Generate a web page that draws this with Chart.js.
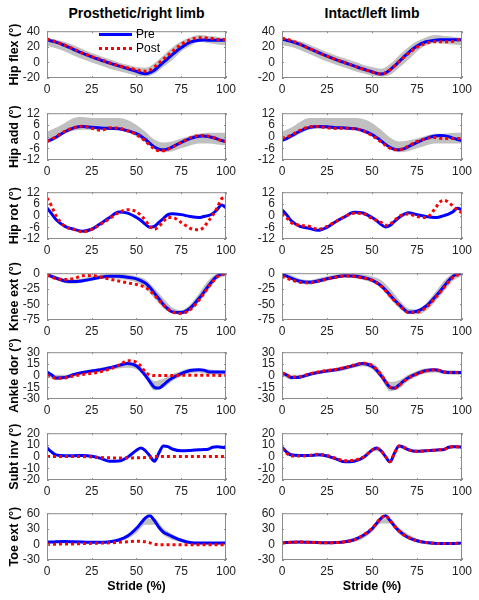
<!DOCTYPE html>
<html>
<head>
<meta charset="utf-8">
<script src="https://cdn.jsdelivr.net/npm/chart.js@4"></script>
<style>
  body { margin: 0; background: #fff; width: 479px; height: 600px; position: relative; overflow: hidden;
         font-family: "Liberation Sans", Arial, sans-serif; }
  canvas { position: absolute; }
  .coltitle { position: absolute; top: 5px; height: 17px; line-height: 17px; font-size: 14px; font-weight: bold;
              text-align: center; color: #000; }
  .leg-line { position: absolute; width: 33px; height: 3px; }
  .leg-text { position: absolute; font-size: 12px; line-height: 14px; color: #000; }
</style>
</head>
<body>
<div class="coltitle" style="left:47px;width:179px">Prosthetic/right limb</div>
<div class="coltitle" style="left:282px;width:180px">Intact/left limb</div>

<script>
// stride samples (%) for the Pre / Post curves and for the grey reference band
const stride = [0, 2.5, 5, 10, 15, 20, 25, 30, 35, 40, 45, 50, 52.5, 55, 57.5, 60, 62.5, 65, 67.5, 70, 75, 80, 85, 87.5, 90, 92.5, 95, 97.5, 100];
const bandStride = [0, 5, 10, 15, 20, 25, 30, 35, 40, 45, 50, 55, 60, 65, 70, 75, 80, 85, 90, 95, 100];
const xTicks = [0, 25, 50, 75, 100];

// Hip flexion
const hipFlexRPre  = [29, 27.5, 26, 21.5, 16.5, 11.5, 7, 3, -1, -4.5, -8, -11.5, -13.5, -14.5, -13, -10, -5, 0, 5, 10, 19, 26, 28.5, 28.7, 28.5, 28.5, 28.5, 28.5, 28.5];
const hipFlexRPost = [30, 28.5, 26.5, 22, 17, 12, 7.5, 3.5, -0.5, -4, -7, -9.5, -11, -11.5, -10, -6, -1, 4, 9, 14, 23, 29, 31.5, 31.5, 31, 30.5, 29.5, 29.5, 29.5];
const hipFlexRLow  = [21, 18, 14, 9, 4, 0, -4, -8, -11, -14, -17, -18, -15, -6, 3, 14, 21, 26, 25, 23, 22];
const hipFlexRHigh = [31, 29, 26, 22, 17, 12, 8, 4, 0, -3, -6, -7, -1, 9, 19, 27, 32, 35, 34, 33, 31];
const hipFlexLPre  = [29.5, 28.5, 27, 23, 18, 13, 8, 3.5, -0.5, -4.5, -8.5, -12, -14, -15, -13.5, -9.5, -4.5, 1, 6.5, 12, 21, 26.5, 28.5, 29, 29, 29, 29, 29, 29];
const hipFlexLPost = [31, 30, 28, 23.5, 18, 13, 8, 3.5, -0.5, -4.5, -8.5, -12.5, -14, -15, -13.5, -9.5, -4.5, 1, 6, 11, 19.5, 24.5, 26.5, 26.5, 26.5, 26.5, 27, 28.5, 31];
const hipFlexLLow  = [22, 20, 16, 11, 6, 1, -3, -7, -11, -14, -17, -18, -16, -7, 3, 14, 22, 25, 24, 23, 22];
const hipFlexLHigh = [32, 30, 27, 23, 18, 13, 9, 5, 1, -3, -6, -8, -2, 9, 19, 27, 32, 35, 34, 33, 31];

// Hip adduction
const hipAddRPre  = [-2.5, -1.5, -0.3, 2.5, 4.5, 5.2, 4.8, 4.4, 4.2, 4, 3, 1.5, 0.2, -1.5, -3.5, -5.3, -6.5, -6.8, -6.3, -5.3, -3, -1, 0.2, 0.3, 0, -0.5, -1.2, -2, -2.5];
const hipAddRPost = [-2.5, -1.5, 0, 2.7, 4.6, 5.3, 4.2, 3.2, 4.5, 4.3, 3, 1, -0.5, -2.3, -4.5, -6.3, -7.3, -7.3, -6.5, -5.5, -3, -0.7, 0.5, 0.6, 0.3, -0.3, -1.2, -2, -2.7];
const hipAddRLow  = [-3, -1.5, 1.5, 3, 3.5, 3.5, 3.5, 3.5, 3.5, 2.5, 0, -3, -6, -8, -7.5, -6, -4.5, -3.5, -3.5, -4, -4.5];
const hipAddRHigh = [2.5, 4.5, 7, 9.5, 10, 9.5, 9.5, 9.5, 9.5, 8.5, 6, 2.5, -1.5, -3, -2.5, -1, 0.5, 1.5, 2, 2, 2];
const hipAddLPre  = [-2, -1, 0.3, 2.8, 4.6, 5.2, 5, 4.6, 4.4, 4.1, 3, 1, -0.5, -2.2, -4, -5.5, -6.5, -6.8, -6.3, -5.3, -3, -1, 0.3, 0.6, 0.5, 0, -0.8, -1.5, -2];
const hipAddLPost = [-0.8, -0.2, 0.8, 3.2, 5, 5.2, 4.5, 4.2, 4.3, 4, 3, 0.5, -1, -2.8, -4.5, -6, -6.8, -6.8, -6, -5, -2.5, -1, -0.5, -0.8, -1, -1, -1, -1, -1];
const hipAddLLow  = [-2.5, -1, 1.5, 3.5, 4, 4, 4, 4, 4, 3, 0.5, -2.5, -5.5, -8, -7.5, -6, -4.5, -3.5, -3.5, -3.5, -3.5];
const hipAddLHigh = [2.5, 4.5, 7.5, 9.5, 9.5, 9.5, 9.5, 9.5, 9.5, 9, 7, 3.5, -0.5, -2.5, -2, -1, 0.5, 1.5, 1.5, 2, 2];

// Hip rotation (no reference band)
const hipRotRPre  = [4, 1, -2, -5.5, -7, -8, -7, -4, -1, 1.8, 1.3, -1, -2.5, -4.5, -6, -5.5, -3.5, -1.5, 0.5, 1, 0.5, -0.5, -1, -0.5, 0, 1, 3, 5.5, 4];
const hipRotRPost = [9, 5, 0, -5.5, -7, -8.3, -7, -4.5, -1.5, 1.5, 3, 2, 0, -2.5, -5.5, -7, -5.5, -3, -1, -1, -3.5, -6.5, -7.3, -6, -3, 0, 4, 8.5, 10];
const hipRotLPre  = [3, 0.5, -2.5, -5.5, -6.5, -7.5, -6, -3, -0.5, 1.7, 1.3, -1, -2.5, -4.5, -5.8, -5, -3, -1, 0.5, 1.5, 0.5, -0.5, -1, -0.7, 0, 0.8, 2, 3.8, 3];
const hipRotLPost = [1, -1, -3.5, -5, -5.5, -7, -5.5, -3, -0.5, 1.2, 1, -1.5, -2.5, -3.5, -5, -4.5, -2.5, -0.5, 0.5, 0.8, -0.5, -1, 3.5, 6.8, 7.9, 6.8, 4.9, 2.8, 1.6];

// Knee extension
const kneeRPre  = [-2.5, -5, -8, -12.5, -13.5, -12, -9.5, -6.5, -5, -5, -6.5, -9, -12, -16, -23, -32, -41, -50, -57, -62, -63, -56, -40, -31, -21, -12, -5, -1.5, -1];
const kneeRPost = [-3, -6, -8.5, -10, -8.5, -4, -3.5, -6.5, -9.5, -12.5, -15.5, -18, -20, -23, -28, -35, -43, -51, -58, -62, -64.5, -58.5, -43, -33, -23, -14, -6, -2, -1];
const kneeRLow  = [-5, -11, -16, -17, -15, -12, -9, -8, -9, -11, -15, -24, -40, -56, -64, -66, -61, -46, -28, -10, -4];
const kneeRHigh = [0, -4, -9, -10, -8, -5, -2, -1, -1, -2, -5, -10, -24, -40, -55, -59, -50, -32, -12, -1, 0];
const kneeLPre  = [-1, -4.5, -8, -13, -14.5, -12.5, -9, -6, -4, -4.5, -7, -11, -15, -20, -27, -35, -43, -50, -57, -62.5, -61, -53, -38, -30, -21, -12, -5, -1, -0.5];
const kneeLPost = [-5, -8, -10.5, -14.5, -15.5, -13, -9.5, -6.5, -4.5, -5, -7.5, -11.5, -15.5, -20.5, -28, -36, -44, -51, -58, -63, -62.5, -55, -40, -32, -23, -14, -6.5, -3, -4];
const kneeLLow  = [-5, -11, -17, -18, -16, -12, -9, -7, -8, -11, -15, -24, -41, -56, -65, -66, -60, -46, -29, -12, -4];
const kneeLHigh = [1, -3, -9, -11, -8, -5, -2, -1, -1, -2, -5, -11, -25, -42, -56, -58, -48, -31, -12, -1, 1];

// Ankle dorsiflexion
const ankleRPre  = [4.5, 1, -3, -2.5, 1.5, 4, 6, 7.5, 10, 13, 15.5, 12.5, 7, 0, -8, -15, -16, -12, -7, -3, 2.5, 6.5, 7.5, 7, 5, 4.5, 4.5, 4.5, 4.5];
const ankleRPost = [0, -1.5, -3.5, -3, -0.5, 1.5, 3, 5, 8.5, 13, 19, 17, 12, 4.5, 1, 0, 0, 0, 0, 0, 0.3, 0.3, 0.3, 0.3, 0.3, 0.3, 0.3, 0.2, 0.2];
const ankleRLow  = [0, -6, -4, -1, 2, 4, 5, 7, 9, 10, 8, -3, -19, -16, -7, -1, 3, 4, 2, 1, 1];
const ankleRHigh = [6, 1, 1, 3, 6, 8, 10, 12, 15, 17, 15, 6, -7, -4, 2, 6, 9, 9, 8, 7, 6];
const ankleLPre  = [3, 1, -2.5, -2, 1.5, 4, 6, 7.5, 10, 13, 15.5, 12, 7, 0, -8, -15, -16, -12, -7, -3, 2.5, 6.5, 7.5, 6.5, 4.5, 4, 4, 4, 4];
const ankleLPost = [3.5, 1.5, -2, -1.5, 2, 4.5, 6.5, 8, 10.5, 13.5, 16, 13, 8, 1, -7, -14.5, -16.5, -13, -8, -3.5, 2, 6, 7.5, 6.5, 4.5, 4, 4, 4, 3.5];
const ankleLLow  = [0, -5, -4, -1, 2, 4, 5, 7, 10, 12, 8, -4, -20, -17, -7, -1, 3, 4, 2, 1, 1];
const ankleLHigh = [5, 1, 1, 4, 6, 8, 10, 12, 15, 17, 16, 6, -8, -6, 1, 6, 9, 9, 7, 7, 6];

// Subtalar inversion
const subtRPre  = [7.5, 4, 1.5, 0.8, 0.8, 1, 0.3, -1.5, -4, -3.8, -0.5, 5.5, 7.3, 5, 0.5, -4, 3, 9, 8.5, 6.5, 5, 5.3, 5.8, 6, 6.3, 8, 8.5, 8, 7.5];
const subtRPost = [0, 0, 0, 0, 0, 0, -0.3, -0.8, -1, -1.2, -1.2, -1, -1, -0.8, -0.5, 0, 0, 0, 0, 0, 0, 0, 0, 0, 0, 0, 0, 0, 0];
const subtLPre  = [8, 4, 1.5, 1, 1, 1.5, 0.5, -2, -4.5, -4, -1, 5.5, 7.3, 5, 0, -4.5, 3, 9, 8, 6, 4.5, 5, 5.5, 5.8, 6, 8, 8.5, 8.5, 8];
const subtLPost = [7, 3, 0.5, 0.5, 1, 2, 1, -1.5, -3.5, -3, -0.5, 5.5, 7.3, 5, 0, -4.3, 3, 9, 8, 6, 4.5, 5, 5.5, 5.8, 6, 8, 8.5, 8.3, 8];
const subtLLow  = [6, 0, 0, 0, 0, -0.5, -3, -5.5, -5, -2, 4.5, 4, -5.5, 8, 5, 3.5, 4, 4.5, 5, 7.5, 7];
const subtLHigh = [8.5, 2.5, 2, 2, 2.5, 1.5, -1, -3.5, -3, 0, 6.5, 6, -3.5, 10, 7, 5.5, 6, 6.5, 7, 9.5, 9];

// Toe extension
const toeRPre  = [4.5, 4.5, 5, 5.5, 5, 4.5, 4, 4, 5, 8.5, 16, 31, 41, 51, 55, 46, 33, 23.5, 19, 15, 8, 3.5, 2.5, 2.5, 2.5, 2.5, 2.5, 2.5, 3];
const toeRPost = [0, 0.5, 0.5, 1, 1, 1.5, 2, 2.5, 3, 4, 5, 6, 6, 5, 3, 0.5, -0.5, -0.5, -0.5, -0.5, -0.5, -0.5, -0.5, -0.5, -0.5, -0.5, -0.5, -0.5, -0.5];
const toeRLow  = [2, 2, 2, 2, 2, 2, 2, 3, 5, 11, 22, 38, 38, 18, 9, 4, 1, 0, 0, 0, 0];
const toeRHigh = [5, 6, 6, 6, 5, 5, 5, 7, 11, 19, 32, 50, 50, 31, 20, 11, 5, 3, 3, 3, 4];
const toeLPre  = [3, 3.5, 4, 4.5, 4, 3.5, 3, 3.5, 5, 9, 17, 30, 40, 50, 55, 46, 35, 26, 19, 13.5, 7, 3.5, 2, 1.5, 1.5, 1.5, 1.5, 2, 2];
const toeLPost = [3, 3.5, 4, 4.5, 4, 3.5, 3, 3.5, 5, 9, 17.5, 31, 41, 51, 55.5, 46, 35, 26, 19, 13.5, 7, 3.5, 2, 1.5, 1.5, 1.5, 1.5, 2, 2];
const toeLLow  = [1, 2, 2, 2, 2, 2, 2, 3, 5, 11, 24, 40, 40, 20, 10, 4, 1, 0, 0, 0, 1];
const toeLHigh = [4, 5, 5, 5, 4, 4, 5, 7, 11, 20, 33, 50, 50, 32, 20, 11, 5, 3, 3, 3, 4];

// row labels and y tick labels
const rowLabels = ['Hip flex (°)', 'Hip add (°)', 'Hip rot (°)', 'Knee ext (°)', 'Ankle dor (°)', 'Subt inv (°)', 'Toe ext (°)'];
const yTicks = [
  [-20, 0, 20, 40],
  [-12, -6, 0, 6, 12],
  [-12, -6, 0, 6, 12],
  [-75, -50, -25, 0],
  [-30, -15, 0, 15, 30],
  [-20, -10, 0, 10, 20],
  [-30, 0, 30, 60]
];

const panels = [
  [{ pre: hipFlexRPre, post: hipFlexRPost, low: hipFlexRLow, high: hipFlexRHigh },
   { pre: hipFlexLPre, post: hipFlexLPost, low: hipFlexLLow, high: hipFlexLHigh }],
  [{ pre: hipAddRPre, post: hipAddRPost, low: hipAddRLow, high: hipAddRHigh },
   { pre: hipAddLPre, post: hipAddLPost, low: hipAddLLow, high: hipAddLHigh }],
  [{ pre: hipRotRPre, post: hipRotRPost },
   { pre: hipRotLPre, post: hipRotLPost }],
  [{ pre: kneeRPre, post: kneeRPost, low: kneeRLow, high: kneeRHigh },
   { pre: kneeLPre, post: kneeLPost, low: kneeLLow, high: kneeLHigh }],
  [{ pre: ankleRPre, post: ankleRPost, low: ankleRLow, high: ankleRHigh },
   { pre: ankleLPre, post: ankleLPost, low: ankleLLow, high: ankleLHigh }],
  [{ pre: subtRPre, post: subtRPost },
   { pre: subtLPre, post: subtLPost, low: subtLLow, high: subtLHigh }],
  [{ pre: toeRPre, post: toeRPost, low: toeRLow, high: toeRHigh },
   { pre: toeLPre, post: toeLPost, low: toeLLow, high: toeLHigh }]
];

// layout
const plotTops = [25, 107, 186, 267, 346, 427, 507];
const plotH = 53;
const padTop = 8;

Chart.defaults.font.family = '"Liberation Sans", Arial, sans-serif';
Chart.defaults.color = '#222';

const toXY = (xs, ys) => xs.map((x, i) => ({ x: x, y: ys[i] }));

// grey box around each axes with small inward ticks, like MATLAB "box on"
const boxPlugin = {
  id: 'box',
  afterDatasetsDraw(chart) {
    const a = chart.chartArea;
    const ctx = chart.ctx;
    const xs = chart.scales.x, ys = chart.scales.y;
    const tl = 2;
    ctx.save();
    ctx.strokeStyle = '#8c8c8c';
    ctx.lineWidth = 1;
    ctx.strokeRect(a.left + 0.5, a.top + 0.5, a.right - a.left - 1, a.bottom - a.top - 1);
    ctx.beginPath();
    xs.ticks.forEach(t => {
      const px = Math.round(xs.getPixelForValue(t.value)) + 0.5;
      ctx.moveTo(px, a.bottom); ctx.lineTo(px, a.bottom - tl);
      ctx.moveTo(px, a.top); ctx.lineTo(px, a.top + tl);
    });
    ys.ticks.forEach(t => {
      const py = Math.round(ys.getPixelForValue(t.value)) + 0.5;
      ctx.moveTo(a.left, py); ctx.lineTo(a.left + tl, py);
      ctx.moveTo(a.right, py); ctx.lineTo(a.right - tl, py);
    });
    ctx.stroke();
    ctx.restore();
  }
};

function makePanel(row, col) {
  const p = panels[row][col];
  const ticks = yTicks[row];
  const last = row === panels.length - 1;
  const axisH = last ? 38 : 20;
  const w = col === 0 ? 240 : 239;
  const h = padTop + plotH + axisH;

  const canvas = document.createElement('canvas');
  canvas.width = w;
  canvas.height = h;
  canvas.style.left = (col === 0 ? 0 : 240) + 'px';
  canvas.style.top = (plotTops[row] - padTop) + 'px';
  document.body.appendChild(canvas);

  const lineBase = { pointRadius: 0, cubicInterpolationMode: 'monotone', fill: false };
  const datasets = [
    Object.assign({ data: toXY(stride, p.post), borderColor: '#ff0000', borderWidth: 3, borderDash: [3, 3] }, lineBase),
    Object.assign({ data: toXY(stride, p.pre), borderColor: '#0000ff', borderWidth: 3 }, lineBase)
  ];
  if (p.low) {
    datasets.push(Object.assign({ data: toXY(bandStride, p.low), borderWidth: 0, borderColor: 'rgba(0,0,0,0)' }, lineBase));
    datasets.push(Object.assign({}, lineBase, { data: toXY(bandStride, p.high), borderWidth: 0,
      borderColor: 'rgba(0,0,0,0)', backgroundColor: '#c0c0c0', fill: 2 }));
  }

  new Chart(canvas, {
    type: 'line',
    data: { datasets: datasets },
    options: {
      responsive: false,
      animation: false,
      devicePixelRatio: 1,
      events: [],
      layout: { padding: { top: padTop, right: col === 0 ? 14 : 17, left: 0, bottom: 0 } },
      plugins: { legend: { display: false }, tooltip: { enabled: false } },
      scales: {
        x: {
          type: 'linear',
          min: xTicks[0],
          max: xTicks[xTicks.length - 1],
          afterBuildTicks: s => { s.ticks = xTicks.map(v => ({ value: v })); },
          ticks: { padding: 4, maxRotation: 0, autoSkip: false, font: { size: 12 }, color: '#222' },
          grid: { display: false, drawTicks: false },
          border: { display: false },
          title: {
            display: last,
            text: 'Stride (%)',
            color: '#000',
            font: { size: 12.5, weight: 'bold' },
            padding: { top: 0, bottom: 4 }
          },
          afterFit: s => { s.height = axisH; }
        },
        y: {
          type: 'linear',
          min: ticks[0],
          max: ticks[ticks.length - 1],
          afterBuildTicks: s => { s.ticks = ticks.map(v => ({ value: v })); },
          ticks: { padding: 7, autoSkip: false, font: { size: 12 }, color: '#222' },
          grid: { display: false, drawTicks: false },
          border: { display: false },
          title: {
            display: col === 0,
            text: rowLabels[row],
            color: '#000',
            font: { size: 12.5, weight: 'bold' },
            padding: { top: 7, bottom: 0 }
          },
          afterFit: s => { s.width = col === 0 ? 47 : 42; }
        }
      }
    },
    plugins: [boxPlugin]
  });
}

for (let r = 0; r < panels.length; r++) {
  makePanel(r, 0);
  makePanel(r, 1);
}
</script>

<!-- legend of the first panel -->
<div class="leg-line" style="left:99px;top:33px;background:#0000ff"></div>
<div class="leg-line" style="left:99px;top:47px;background:repeating-linear-gradient(90deg,#ff0000 0 3px,transparent 3px 6px)"></div>
<div class="leg-text" style="left:136px;top:27px">Pre</div>
<div class="leg-text" style="left:136px;top:41px">Post</div>
</body>
</html>
